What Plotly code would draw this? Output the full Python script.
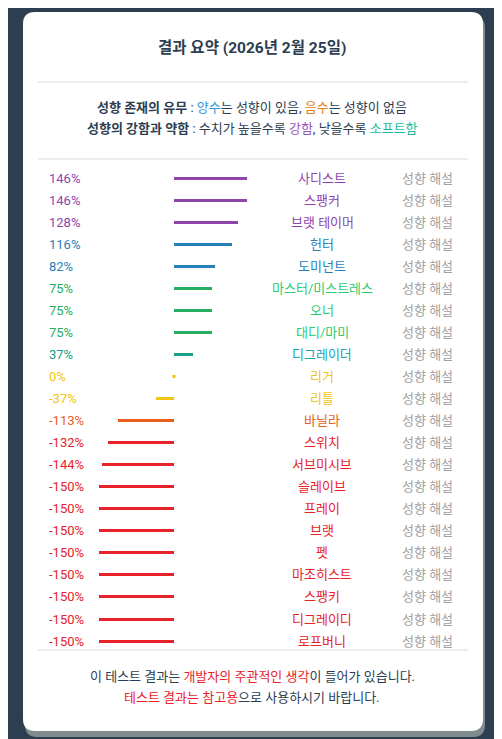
import plotly.graph_objects as go

names = ["사디스트","스팽커","브랫 테이머","헌터","도미넌트","마스터/미스트레스","오너","대디/마미","디그레이더","리거","리틀","바닐라","스위치","서브미시브","슬레이브","프레이","브랫","펫","마조히스트","스팽키","디그레이디","로프버니"]
values = [146,146,128,116,82,75,75,75,37,0,-37,-113,-132,-144,-150,-150,-150,-150,-150,-150,-150,-150]
bar_colors = ["#8e44ad"]*3 + ["#2980b9"]*2 + ["#27ae60"]*3 + ["#16a085","#f1c40f","#f1c40f","#e8601c"] + ["#e8222a"]*10
name_colors = ["#8e44ad"]*3 + ["#2980b9"]*2 + ["#2ecc71"]*3 + ["#17a2b8","#f1c40f","#f1c40f","#e8601c"] + ["#e8222a"]*10

W, H = 502, 739
OFF = 8                  # page body margin
X0, XS = 174 - OFF, 0.5
Y0, YS = 178 - OFF, 22.05
rows = list(range(len(names)))

fig = go.Figure()
fig.add_trace(go.Bar(y=rows, x=values, orientation="h", base=0, width=3/YS,
                     marker=dict(color=bar_colors, line=dict(width=0)), hoverinfo="skip"))
zero = [(i, v) for i, v in enumerate(values) if v == 0]
fig.add_trace(go.Scatter(x=[v for _, v in zero], y=[i for i, _ in zero], mode="markers",
                         marker=dict(symbol="square", size=3, color=[bar_colors[i] for i, _ in zero]),
                         hoverinfo="skip"))

FONT = "Roboto, Noto Sans CJK KR, sans-serif"
ann = []
for i, (n, v) in enumerate(zip(names, values)):
    ann.append(dict(x=(47-OFF)/W, xref="paper", y=i, yref="y", text=f"{v}%", showarrow=False,
                    xanchor="left", font=dict(size=13, color=bar_colors[i], family=FONT)))
    ann.append(dict(x=(322-OFF)/W, xref="paper", y=i, yref="y", text=n, showarrow=False,
                    xanchor="center", font=dict(size=13, color=name_colors[i], family=FONT)))
    ann.append(dict(x=(427-OFF)/W, xref="paper", y=i, yref="y", text="성향 해설", showarrow=False,
                    xanchor="center", font=dict(size=13, color="#a0a0a0", family=FONT)))

def P(x, y, text, size=13, color="#2c3e50"):
    ann.append(dict(x=(x-OFF)/W, y=1-(y-OFF)/H, xref="paper", yref="paper", text=text, showarrow=False,
                    xanchor="center", yanchor="middle", font=dict(size=size, color=color, family=FONT)))

P(252, 48, "<b>결과 요약 (2026년 2월 25일)</b>", 15.5)
P(252, 107, "<b>성향 존재의 유무</b> : <span style='color:#3498db'>양수</span>는 성향이 있음, <span style='color:#e67e22'>음수</span>는 성향이 없음", 13)
P(252, 128, "<b>성향의 강함과 약함</b> : 수치가 높을수록 <span style='color:#9b59b6'>강함</span>, 낮을수록 <span style='color:#1abc9c'>소프트함</span>", 13)
P(252, 676, "이 테스트 결과는 <span style='color:#e8222a'>개발자의 주관적인 생각</span>이 들어가 있습니다.", 13)
P(252, 697, "<span style='color:#e8222a'>테스트 결과는 참고용</span>으로 사용하시기 바랍니다.", 13)

def rrp(x0, y0, x1, y1, r):
    x0 -= OFF; x1 -= OFF; y0 -= OFF; y1 -= OFF
    pts = []
    def X(x): return f"{x/W:.5f}"
    def Y(y): return f"{1-y/H:.5f}"
    return (f"M {X(x0+r)} {Y(y0)} L {X(x1-r)} {Y(y0)} Q {X(x1)} {Y(y0)} {X(x1)} {Y(y0+r)} "
            f"L {X(x1)} {Y(y1-r)} Q {X(x1)} {Y(y1)} {X(x1-r)} {Y(y1)} L {X(x0+r)} {Y(y1)} "
            f"Q {X(x0)} {Y(y1)} {X(x0)} {Y(y1-r)} L {X(x0)} {Y(y0+r)} Q {X(x0)} {Y(y0)} {X(x0+r)} {Y(y0)} Z")

shapes = []
shapes.append(dict(type="path", path=rrp(25, 16, 485, 737, 12), xref="paper", yref="paper",
                   fillcolor="#7f8c8d", line=dict(width=0), layer="below"))
shapes.append(dict(type="path", path=rrp(23, 12, 483, 731, 12), xref="paper", yref="paper",
                   fillcolor="white", line=dict(width=0), layer="below"))
for yy in (82, 159, 650):
    shapes.append(dict(type="line", x0=(38-OFF)/W, x1=(468-OFF)/W, y0=1-(yy-OFF)/H, y1=1-(yy-OFF)/H,
                       xref="paper", yref="paper", line=dict(color="#ececec", width=2), layer="below"))

fig.update_layout(
    width=W, height=H, margin=dict(l=0, r=0, t=0, b=0),
    paper_bgcolor="#2c3e50", plot_bgcolor="rgba(0,0,0,0)", showlegend=False,
    xaxis=dict(range=[(0-X0)/XS, (W-X0)/XS], visible=False, fixedrange=True),
    yaxis=dict(range=[(H-Y0)/YS, (0-Y0)/YS], visible=False, fixedrange=True),
    annotations=ann, shapes=shapes, bargap=0,
)
fig.write_html("out.html", config={"displayModeBar": False})
